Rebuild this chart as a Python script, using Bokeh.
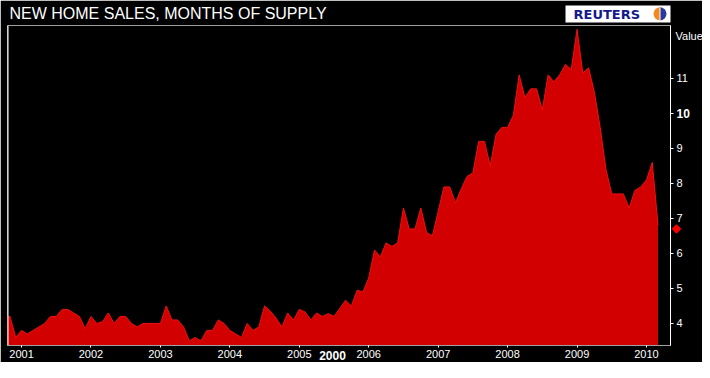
import math
import pandas as pd
from bokeh.plotting import figure
from bokeh.layouts import column
from bokeh.models import Range1d, FixedTicker, Label, Span
from bokeh.embed import file_html
from bokeh.resources import INLINE

# ---- data: new home sales, months of supply (monthly) ----
first_month = "2000-10-01"
supply_2000 = [4.2, 4.2, 3.6]
supply_2001 = [3.8, 3.7, 3.8, 3.9, 4.0, 4.2, 4.2, 4.4, 4.4, 4.3, 4.2, 3.85]
supply_2002 = [4.2, 4.0, 4.05, 4.3, 4.0, 4.2, 4.2, 4.0, 3.9, 4.0, 4.0, 4.0]
supply_2003 = [4.0, 4.5, 4.1, 4.1, 3.9, 3.5, 3.6, 3.5, 3.8, 3.8, 4.1, 4.0]
supply_2004 = [3.8, 3.7, 3.6, 4.0, 3.8, 3.9, 4.5, 4.35, 4.15, 3.9, 4.3, 4.1]
supply_2005 = [4.4, 4.33, 4.1, 4.3, 4.2, 4.28, 4.2, 4.43, 4.66, 4.5, 4.95, 4.9]
supply_2006 = [5.3, 6.1, 5.9, 6.3, 6.2, 6.3, 7.3, 6.7, 6.7, 7.3, 6.6, 6.5]
supply_2007 = [7.2, 7.9, 7.9, 7.45, 7.85, 8.2, 8.3, 9.2, 9.2, 8.5, 9.4, 9.6]
supply_2008 = [9.6, 9.95, 11.1, 10.45, 10.7, 10.7, 10.1, 11.1, 10.9, 11.1, 11.4, 11.25]
supply_2009 = [12.4, 11.15, 11.3, 10.6, 9.6, 8.4, 7.7, 7.7, 7.7, 7.3, 7.8, 7.9]
supply_2010 = [8.1, 8.6, 6.8]
last_value = 6.7

year_ticks = [2001, 2002, 2003, 2004, 2005, 2006, 2007, 2008, 2009, 2010]
value_ticks = [4, 5, 6, 7, 8, 9, 10, 11]
bold_tick = 10

title_text = "NEW HOME SALES, MONTHS OF SUPPLY"
axis_title = "Value"
base_year_text = "2000"
logo_text = "REUTERS"

values = (supply_2000 + supply_2001 + supply_2002 + supply_2003 + supply_2004 +
          supply_2005 + supply_2006 + supply_2007 + supply_2008 + supply_2009 + supply_2010)
dates = pd.date_range(first_month, periods=len(values), freq="MS")
xs = [d.year + (d.month - 1) / 12 for d in dates]

# ---- geometry ----
FONT = "Liberation Sans"
W, H = 702, 362
FL, FR, FT, FB = 7, 670, 25, 345          # frame edges in canvas pixels
x_lo, x_hi = 2000.798, 2010.346
y_lo, y_hi = 3.37, 12.51

# ---- main chart ----
p = figure(width=W, height=H, output_backend="svg", toolbar_location=None,
           x_range=Range1d(x_lo, x_hi), y_range=Range1d(y_lo, y_hi),
           y_axis_location="right",
           min_border_left=FL, min_border_right=W - FR, min_border_top=FT, min_border_bottom=H - FB)
p.frame_align = False
p.background_fill_color = "black"
p.border_fill_color = "black"
p.outline_line_color = "#a0a0a0"
p.xgrid.visible = False
p.ygrid.visible = False

p.varea(x=xs, y1=[y_lo] * len(xs), y2=values, fill_color="#d20000")
p.line(x=xs, y=values, line_color="#f01010", line_width=1)

xa = p.xaxis[0]
xa.ticker = FixedTicker(ticks=year_ticks)
xa.minor_tick_line_color = None
xa.major_tick_in = 0
xa.major_tick_out = 2
xa.major_tick_line_color = "white"
xa.axis_line_color = "#a0a0a0"
xa.major_label_text_color = "white"
xa.major_label_text_font = FONT
xa.major_label_text_font_size = "11px"
xa.major_label_standoff = 2

ya = p.yaxis[0]
ya.ticker = FixedTicker(ticks=value_ticks)
ya.minor_tick_line_color = None
ya.major_tick_in = 0
ya.major_tick_out = 3
ya.major_tick_line_color = "white"
ya.axis_line_color = "white"
ya.major_label_text_color = "white"
ya.major_label_text_font = FONT
ya.major_label_text_font_size = "11px"
ya.major_label_standoff = 3
ya.major_label_overrides = {bold_tick: " "}

p.add_layout(Span(location=x_lo, dimension="height", line_color="white", line_width=2))

# ---- transparent overlay for the texts around the frame ----
# x in canvas pixels (left->right), y in canvas pixels measured upward from the bottom
q = figure(width=W, height=H, output_backend="svg", toolbar_location=None,
           x_range=Range1d(0, W), y_range=Range1d(0, H),
           x_axis_location=None, y_axis_location=None,
           min_border_left=0, min_border_right=0, min_border_top=0, min_border_bottom=0)
q.frame_align = False
q.grid.visible = False
q.background_fill_alpha = 0
q.border_fill_alpha = 0
q.outline_line_color = None
q.styles = {"position": "absolute", "left": "0px", "top": "0px"}

per_px = (y_hi - y_lo) / (FB - FT)
q.extra_y_ranges = {"value": Range1d(y_lo - (H - FB) * per_px, y_hi + FT * per_px)}


def up(py):
    """canvas y (from top) -> overlay y (from bottom)"""
    return H - py


# title
q.add_layout(Label(x=9, y=up(13), text=title_text, text_font=FONT, text_font_size="16px",
                   text_color="white", text_baseline="middle"))
# Reuters logo
q.quad(left=[565], right=[670], top=[up(5)], bottom=[up(22)], fill_color="white", line_color=None)
q.add_layout(Label(x=573, y=up(14), text=logo_text, text_font="DejaVu Sans",
                   text_font_style="bold", text_font_size="13px",
                   text_color="#14198c", text_baseline="middle"))
q.wedge(x=[659.5], y=[up(13.3)], radius=6.5, start_angle=math.pi / 2, end_angle=3 * math.pi / 2,
        fill_color="#f08a20", line_color=None)
q.wedge(x=[659.5], y=[up(13.3)], radius=6.5, start_angle=-math.pi / 2, end_angle=math.pi / 2,
        fill_color="#2a3a9c", line_color=None)
q.segment(x0=[659.5], y0=[up(7)], x1=[659.5], y1=[up(19.6)], line_color="white", line_width=1)
# axis title
q.add_layout(Label(x=675, y=up(35), text=axis_title, text_font=FONT, text_font_size="11px",
                   text_color="white", text_baseline="middle"))
# bold tick label
q.add_layout(Label(x=676, y=bold_tick, y_range_name="value", text=str(bold_tick),
                   text_font=FONT, text_font_style="bold", text_font_size="12px",
                   text_color="white", text_baseline="middle", text_align="left"))
# last value marker
q.scatter(x=[676], y=[last_value], y_range_name="value", marker="square", size=6,
          angle=math.pi / 4, fill_color="#ff0000", line_color="#ff0000")
# base year (sits just under the axis labels, between 2005 and 2006)
q.add_layout(Label(x=332, y=up(355), text=base_year_text, text_font=FONT,
                   text_font_style="bold", text_font_size="12px", text_color="white",
                   text_baseline="middle", text_align="center"))

layout = column(p, q)
open("out.html", "w").write(file_html(layout, INLINE))
